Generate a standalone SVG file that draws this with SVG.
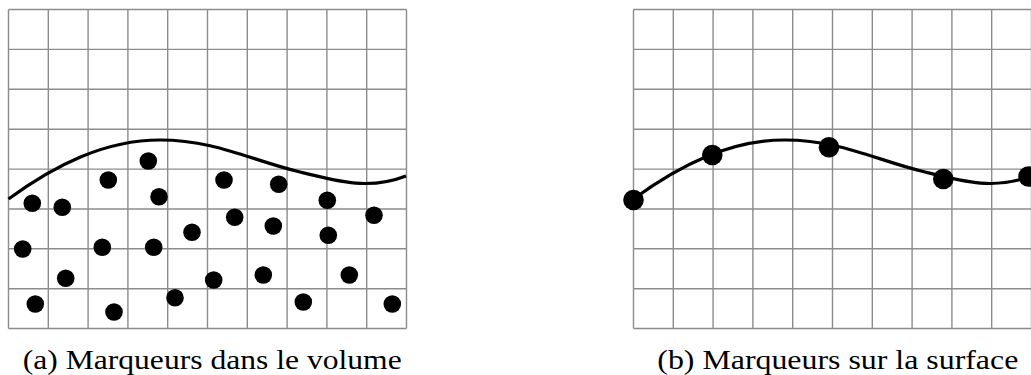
<svg xmlns="http://www.w3.org/2000/svg" width="1031" height="375" viewBox="0 0 1031 375">
<style>
.grid{fill:none;stroke:#8c8c8c;stroke-width:1.4}
.curve{fill:none;stroke:#000;stroke-width:3.2}
.mk{fill:#000}
.cap{font-family:"Liberation Serif","DejaVu Serif",serif;font-size:27px;fill:#000}
</style>
<defs>
<path id="gridpath" d="M8.5,9.5H406.5M8.5,49.4H406.5M8.5,89.3H406.5M8.5,129.2H406.5M8.5,169.1H406.5M8.5,209H406.5M8.5,248.8H406.5M8.5,288.7H406.5M8.5,328.5H406.5M8.5,9.5V328.5M48.3,9.5V328.5M88.1,9.5V328.5M127.9,9.5V328.5M167.7,9.5V328.5M207.5,9.5V328.5M247.3,9.5V328.5M287.1,9.5V328.5M326.9,9.5V328.5M366.7,9.5V328.5M406.5,9.5V328.5"/>
<path id="curvepath" d="M8.5,199 C55,165 105,140 160,140 C215,140 250,160 300,172 C340,182 370,190 406,176"/>
</defs>
<g id="panel-a">
<use href="#gridpath" class="grid"/>
<use href="#curvepath" class="curve"/>
<g id="markers-a" class="mk">
<circle cx="32.3" cy="203.3" r="8.8"/>
<circle cx="62.3" cy="207.3" r="8.8"/>
<circle cx="108.3" cy="180" r="8.8"/>
<circle cx="148.3" cy="161" r="8.8"/>
<circle cx="159" cy="196.7" r="8.8"/>
<circle cx="224" cy="180" r="8.8"/>
<circle cx="278.7" cy="184.3" r="8.8"/>
<circle cx="327.3" cy="200.3" r="8.8"/>
<circle cx="234.7" cy="217.3" r="8.8"/>
<circle cx="273.3" cy="226" r="8.8"/>
<circle cx="192" cy="232.3" r="8.8"/>
<circle cx="374" cy="215.3" r="8.8"/>
<circle cx="328.3" cy="235.3" r="8.8"/>
<circle cx="22.7" cy="249" r="8.8"/>
<circle cx="102.3" cy="247.3" r="8.8"/>
<circle cx="153.7" cy="247.3" r="8.8"/>
<circle cx="65.7" cy="278.3" r="8.8"/>
<circle cx="213.7" cy="280" r="8.8"/>
<circle cx="263.3" cy="275" r="8.8"/>
<circle cx="349.3" cy="275" r="8.8"/>
<circle cx="35.3" cy="304" r="8.8"/>
<circle cx="114" cy="312" r="8.8"/>
<circle cx="175" cy="297.7" r="8.8"/>
<circle cx="303.3" cy="302" r="8.8"/>
<circle cx="392.3" cy="304" r="8.8"/>
</g>
<text class="cap" x="22.7" y="369" textLength="379" lengthAdjust="spacingAndGlyphs">(a) Marqueurs dans le volume</text>
</g>
<g id="panel-b">
<use href="#gridpath" class="grid" transform="translate(625,0)"/>
<use href="#curvepath" class="curve" transform="translate(625,0)"/>
<g id="markers-b" class="mk">
<circle cx="633.5" cy="200" r="10.3"/>
<circle cx="712.3" cy="155" r="10.3"/>
<circle cx="829" cy="147.3" r="10.3"/>
<circle cx="943.3" cy="179" r="10.3"/>
<circle cx="1028.5" cy="176.5" r="10.3"/>
</g>
<text class="cap" x="657.3" y="369" textLength="361" lengthAdjust="spacingAndGlyphs">(b) Marqueurs sur la surface</text>
</g>
</svg>
